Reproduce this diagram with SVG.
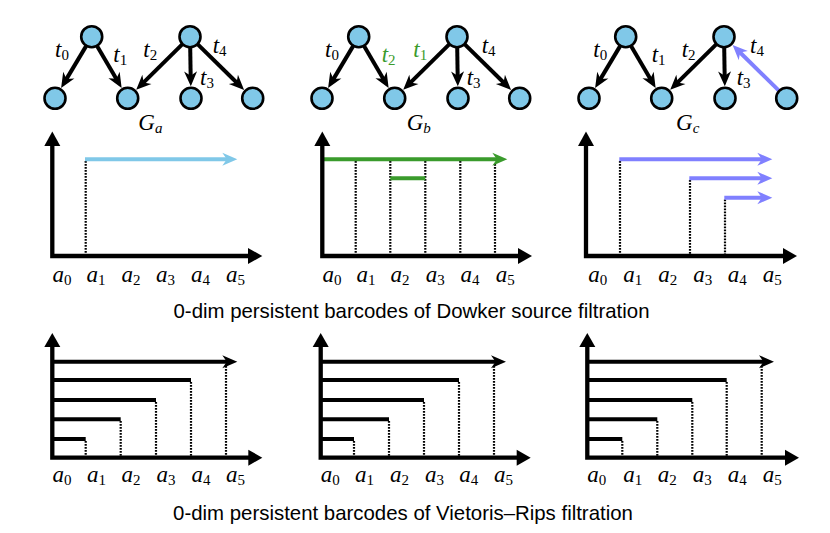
<svg xmlns="http://www.w3.org/2000/svg" width="830" height="533" viewBox="0 0 830 533">
<style>
.node{fill:#80C8E8;stroke:#000;stroke-width:2.6}
.edge{stroke:#000;stroke-width:4;fill:none}
.ax{stroke:#000;stroke-width:4.3;fill:none;stroke-linejoin:miter}
.dot{stroke:#000;stroke-width:2.2;stroke-dasharray:1.7 1.3;fill:none}
.bar{stroke-width:4;fill:none}
.m{font-family:"Liberation Serif","Times New Roman",serif;font-style:italic;font-size:23px;fill:#000}
.sub{font-style:normal;font-size:15px}
.subi{font-size:15px}
.cap{font-family:"Liberation Sans",Arial,sans-serif;font-size:20.4px;fill:#000;text-anchor:middle}
</style>
<defs>
<marker id="ak" markerUnits="userSpaceOnUse" viewBox="0 0 16 14" markerWidth="16" markerHeight="14" refX="7" refY="6.5" orient="auto" overflow="visible"><path d="M0,0 L15,6.5 L0,13 L4.5,6.5 z" fill="#000"/></marker>
<marker id="ap" markerUnits="userSpaceOnUse" viewBox="0 0 16 14" markerWidth="16" markerHeight="14" refX="7" refY="6.5" orient="auto" overflow="visible"><path d="M0,0 L15,6.5 L0,13 L4.5,6.5 z" fill="#8080FF"/></marker>
<marker id="ab" markerUnits="userSpaceOnUse" viewBox="0 0 16 14" markerWidth="16" markerHeight="14" refX="7" refY="6.5" orient="auto" overflow="visible"><path d="M0,0 L15,6.5 L0,13 L4.5,6.5 z" fill="#80C8E8"/></marker>
<marker id="ag" markerUnits="userSpaceOnUse" viewBox="0 0 16 14" markerWidth="16" markerHeight="14" refX="7" refY="6.5" orient="auto" overflow="visible"><path d="M0,0 L15,6.5 L0,13 L4.5,6.5 z" fill="#3A9B2C"/></marker>
</defs>

<!-- Graph G_a -->
<g id="graph-a">
 <g id="ga-edges">
  <line class="edge" x1="86.1" y1="46.1" x2="65.2" y2="81.1" marker-end="url(#ak)"/>
  <line class="edge" x1="97.2" y1="46.2" x2="117.6" y2="81" marker-end="url(#ak)"/>
  <line class="edge" x1="182.2" y1="44.4" x2="141.9" y2="84.2" marker-end="url(#ak)"/>
  <line class="edge" x1="190.2" y1="47.7" x2="190.7" y2="78.3" marker-end="url(#ak)"/>
  <line class="edge" x1="197.8" y1="44.4" x2="238.4" y2="84.3" marker-end="url(#ak)"/>
 </g>
 <g id="ga-n1"><circle class="node" cx="91.7" cy="36.7" r="10.5"/></g>
 <g id="ga-n2"><circle class="node" cx="190" cy="36.7" r="10.5"/></g>
 <g id="ga-n3"><circle class="node" cx="55" cy="98.3" r="10.5"/></g>
 <g id="ga-n4"><circle class="node" cx="127.7" cy="98.3" r="10.5"/></g>
 <g id="ga-n5"><circle class="node" cx="191" cy="98.3" r="10.5"/></g>
 <g id="ga-n6"><circle class="node" cx="252.7" cy="98.3" r="10.5"/></g>
 <g id="ga-labels">
  <text class="m" x="55" y="56.7">t<tspan class="sub" dy="3">0</tspan></text>
  <text class="m" x="113.3" y="61.7">t<tspan class="sub" dy="3">1</tspan></text>
  <text class="m" x="143.3" y="56.7">t<tspan class="sub" dy="3">2</tspan></text>
  <text class="m" x="200" y="85">t<tspan class="sub" dy="3">3</tspan></text>
  <text class="m" x="212.7" y="53.3">t<tspan class="sub" dy="3">4</tspan></text>
  <text class="m" x="138.3" y="130">G<tspan class="subi" dy="3">a</tspan></text>
 </g>
</g>

<!-- Graph G_b -->
<g id="graph-b" transform="translate(267,0)">
 <g id="gb-edges">
  <line class="edge" x1="86.1" y1="46.1" x2="65.2" y2="81.1" marker-end="url(#ak)"/>
  <line class="edge" x1="97.2" y1="46.2" x2="117.6" y2="81" marker-end="url(#ak)"/>
  <line class="edge" x1="182.2" y1="44.4" x2="141.9" y2="84.2" marker-end="url(#ak)"/>
  <line class="edge" x1="190.2" y1="47.7" x2="190.7" y2="78.3" marker-end="url(#ak)"/>
  <line class="edge" x1="197.8" y1="44.4" x2="238.4" y2="84.3" marker-end="url(#ak)"/>
 </g>
 <g id="gb-n1"><circle class="node" cx="91.7" cy="36.7" r="10.5"/></g>
 <g id="gb-n2"><circle class="node" cx="190" cy="36.7" r="10.5"/></g>
 <g id="gb-n3"><circle class="node" cx="55" cy="98.3" r="10.5"/></g>
 <g id="gb-n4"><circle class="node" cx="127.7" cy="98.3" r="10.5"/></g>
 <g id="gb-n5"><circle class="node" cx="191" cy="98.3" r="10.5"/></g>
 <g id="gb-n6"><circle class="node" cx="252.7" cy="98.3" r="10.5"/></g>
 <g id="gb-labels">
  <text class="m" x="58" y="56.7">t<tspan class="sub" dy="3">0</tspan></text>
  <text class="m" x="114.7" y="62" style="fill:#3A9B2C">t<tspan class="sub" dy="3">2</tspan></text>
  <text class="m" x="146.3" y="57" style="fill:#3A9B2C">t<tspan class="sub" dy="3">1</tspan></text>
  <text class="m" x="199.7" y="85">t<tspan class="sub" dy="3">3</tspan></text>
  <text class="m" x="214.7" y="53.3">t<tspan class="sub" dy="3">4</tspan></text>
  <text class="m" x="139.7" y="130">G<tspan class="subi" dy="3">b</tspan></text>
 </g>
</g>

<!-- Graph G_c -->
<g id="graph-c" transform="translate(534,0)">
 <g id="gc-edges">
  <line class="edge" x1="86.1" y1="46.1" x2="65.2" y2="81.1" marker-end="url(#ak)"/>
  <line class="edge" x1="97.2" y1="46.2" x2="117.6" y2="81" marker-end="url(#ak)"/>
  <line class="edge" x1="182.2" y1="44.4" x2="141.9" y2="84.2" marker-end="url(#ak)"/>
  <line class="edge" x1="190.2" y1="47.7" x2="190.7" y2="78.3" marker-end="url(#ak)"/>
  <line class="edge" style="stroke:#8080FF" x1="244.9" y1="90.6" x2="204.3" y2="50.7" marker-end="url(#ap)"/>
 </g>
 <g id="gc-n1"><circle class="node" cx="91.7" cy="36.7" r="10.5"/></g>
 <g id="gc-n2"><circle class="node" cx="190" cy="36.7" r="10.5"/></g>
 <g id="gc-n3"><circle class="node" cx="55" cy="98.3" r="10.5"/></g>
 <g id="gc-n4"><circle class="node" cx="127.7" cy="98.3" r="10.5"/></g>
 <g id="gc-n5"><circle class="node" cx="191" cy="98.3" r="10.5"/></g>
 <g id="gc-n6"><circle class="node" cx="252.7" cy="98.3" r="10.5"/></g>
 <g id="gc-labels">
  <text class="m" x="59.3" y="56.7">t<tspan class="sub" dy="3">0</tspan></text>
  <text class="m" x="117.7" y="62">t<tspan class="sub" dy="3">1</tspan></text>
  <text class="m" x="147.7" y="57">t<tspan class="sub" dy="3">2</tspan></text>
  <text class="m" x="202.7" y="85">t<tspan class="sub" dy="3">3</tspan></text>
  <text class="m" x="216" y="53.3">t<tspan class="sub" dy="3">4</tspan></text>
  <text class="m" x="142" y="130">G<tspan class="subi" dy="3">c</tspan></text>
 </g>
</g>

<!-- Dowker barcode panels -->
<g id="dowker-a">
 <line class="dot" x1="85.7" y1="161" x2="85.7" y2="254"/>
 <line class="bar" stroke="#80C8E8" x1="85" y1="159.3" x2="229.3" y2="159.3" marker-end="url(#ab)"/>
 <path class="ax" d="M52.3,146 V256 H249"/>
 <polygon points="44.3,146 60.3,146 52.3,131.5"/>
 <polygon points="248,248 248,264 262.3,256"/>
 <g class="m">
  <text x="52.5" y="281.7">a<tspan class="sub" dy="3">0</tspan></text>
  <text x="86.5" y="281.7">a<tspan class="sub" dy="3">1</tspan></text>
  <text x="121.5" y="281.7">a<tspan class="sub" dy="3">2</tspan></text>
  <text x="156" y="281.7">a<tspan class="sub" dy="3">3</tspan></text>
  <text x="191" y="281.7">a<tspan class="sub" dy="3">4</tspan></text>
  <text x="226" y="281.7">a<tspan class="sub" dy="3">5</tspan></text>
 </g>
</g>

<g id="dowker-b">
 <line class="dot" x1="355.7" y1="161" x2="355.7" y2="254"/>
 <line class="dot" x1="390.3" y1="161" x2="390.3" y2="254"/>
 <line class="dot" x1="425.3" y1="161" x2="425.3" y2="254"/>
 <line class="dot" x1="460.3" y1="161" x2="460.3" y2="254"/>
 <line class="dot" x1="495" y1="164" x2="495" y2="254"/>
 <line class="bar" stroke="#3A9B2C" x1="322.3" y1="159.3" x2="499.3" y2="159.3" marker-end="url(#ag)"/>
 <line class="bar" stroke="#3A9B2C" x1="390.3" y1="178.3" x2="425.3" y2="178.3"/>
 <path class="ax" d="M322.3,146 V256 H519"/>
 <polygon points="314.3,146 330.3,146 322.3,131.5"/>
 <polygon points="518,248 518,264 532,256"/>
 <g class="m">
  <text x="322.5" y="281.7">a<tspan class="sub" dy="3">0</tspan></text>
  <text x="356.5" y="281.7">a<tspan class="sub" dy="3">1</tspan></text>
  <text x="390.5" y="281.7">a<tspan class="sub" dy="3">2</tspan></text>
  <text x="425.8" y="281.7">a<tspan class="sub" dy="3">3</tspan></text>
  <text x="460.5" y="281.7">a<tspan class="sub" dy="3">4</tspan></text>
  <text x="495.8" y="281.7">a<tspan class="sub" dy="3">5</tspan></text>
 </g>
</g>

<g id="dowker-c">
 <line class="dot" x1="620" y1="161" x2="620" y2="254"/>
 <line class="dot" x1="690" y1="180" x2="690" y2="254"/>
 <line class="dot" x1="725" y1="199.5" x2="725" y2="254"/>
 <line class="bar" stroke="#8080FF" x1="619.3" y1="159.3" x2="764.3" y2="159.3" marker-end="url(#ap)"/>
 <line class="bar" stroke="#8080FF" x1="689.3" y1="178.3" x2="764.3" y2="178.3" marker-end="url(#ap)"/>
 <line class="bar" stroke="#8080FF" x1="724.3" y1="197.7" x2="764.3" y2="197.7" marker-end="url(#ap)"/>
 <path class="ax" d="M586,146 V256 H783"/>
 <polygon points="578,146 594,146 586,131.5"/>
 <polygon points="783,248 783,264 797,256"/>
 <g class="m">
  <text x="588.3" y="281.7">a<tspan class="sub" dy="3">0</tspan></text>
  <text x="623.3" y="281.7">a<tspan class="sub" dy="3">1</tspan></text>
  <text x="658.3" y="281.7">a<tspan class="sub" dy="3">2</tspan></text>
  <text x="693.3" y="281.7">a<tspan class="sub" dy="3">3</tspan></text>
  <text x="727.7" y="281.7">a<tspan class="sub" dy="3">4</tspan></text>
  <text x="762.7" y="281.7">a<tspan class="sub" dy="3">5</tspan></text>
 </g>
</g>

<text class="cap" x="411.5" y="317.5">0-dim persistent barcodes of Dowker source filtration</text>

<!-- Vietoris-Rips barcode panels -->
<g id="vr-a">
 <line class="dot" x1="85.7" y1="441" x2="85.7" y2="456"/>
 <line class="dot" x1="120.7" y1="421" x2="120.7" y2="456"/>
 <line class="dot" x1="156" y1="402" x2="156" y2="456"/>
 <line class="dot" x1="191" y1="382" x2="191" y2="456"/>
 <line class="dot" x1="226" y1="366" x2="226" y2="456"/>
 <line class="bar" stroke="#000" x1="52.3" y1="361.7" x2="229.3" y2="361.7" marker-end="url(#ak)"/>
 <line class="bar" stroke="#000" x1="52.3" y1="380" x2="191" y2="380"/>
 <line class="bar" stroke="#000" x1="52.3" y1="400" x2="156" y2="400"/>
 <line class="bar" stroke="#000" x1="52.3" y1="419.3" x2="120.7" y2="419.3"/>
 <line class="bar" stroke="#000" x1="52.3" y1="439" x2="85.7" y2="439"/>
 <path class="ax" d="M52.3,347 V457.7 H249"/>
 <polygon points="44.3,347 60.3,347 52.3,333"/>
 <polygon points="248.3,449.7 248.3,465.7 262.3,457.7"/>
 <g class="m">
  <text x="52.5" y="481.7">a<tspan class="sub" dy="3">0</tspan></text>
  <text x="87" y="481.7">a<tspan class="sub" dy="3">1</tspan></text>
  <text x="121.5" y="481.7">a<tspan class="sub" dy="3">2</tspan></text>
  <text x="156.5" y="481.7">a<tspan class="sub" dy="3">3</tspan></text>
  <text x="191.5" y="481.7">a<tspan class="sub" dy="3">4</tspan></text>
  <text x="226" y="481.7">a<tspan class="sub" dy="3">5</tspan></text>
 </g>
</g>

<g id="vr-b">
 <line class="dot" x1="354" y1="441" x2="354" y2="456"/>
 <line class="dot" x1="389" y1="421" x2="389" y2="456"/>
 <line class="dot" x1="424" y1="402" x2="424" y2="456"/>
 <line class="dot" x1="459" y1="382" x2="459" y2="456"/>
 <line class="dot" x1="494" y1="366" x2="494" y2="456"/>
 <line class="bar" stroke="#000" x1="320.7" y1="361.7" x2="498" y2="361.7" marker-end="url(#ak)"/>
 <line class="bar" stroke="#000" x1="320.7" y1="380" x2="459" y2="380"/>
 <line class="bar" stroke="#000" x1="320.7" y1="400" x2="424" y2="400"/>
 <line class="bar" stroke="#000" x1="320.7" y1="419.3" x2="389" y2="419.3"/>
 <line class="bar" stroke="#000" x1="320.7" y1="439" x2="354" y2="439"/>
 <path class="ax" d="M320.7,347 V457.7 H517"/>
 <polygon points="312.7,347 328.7,347 320.7,333"/>
 <polygon points="516.7,449.7 516.7,465.7 530.7,457.7"/>
 <g class="m">
  <text x="320.7" y="481.7">a<tspan class="sub" dy="3">0</tspan></text>
  <text x="355" y="481.7">a<tspan class="sub" dy="3">1</tspan></text>
  <text x="390" y="481.7">a<tspan class="sub" dy="3">2</tspan></text>
  <text x="425" y="481.7">a<tspan class="sub" dy="3">3</tspan></text>
  <text x="459.3" y="481.7">a<tspan class="sub" dy="3">4</tspan></text>
  <text x="494" y="481.7">a<tspan class="sub" dy="3">5</tspan></text>
 </g>
</g>

<g id="vr-c">
 <line class="dot" x1="622.3" y1="441" x2="622.3" y2="456"/>
 <line class="dot" x1="657.3" y1="421" x2="657.3" y2="456"/>
 <line class="dot" x1="692.3" y1="402" x2="692.3" y2="456"/>
 <line class="dot" x1="726.7" y1="382" x2="726.7" y2="456"/>
 <line class="dot" x1="761.7" y1="366" x2="761.7" y2="456"/>
 <line class="bar" stroke="#000" x1="587.3" y1="361.7" x2="766" y2="361.7" marker-end="url(#ak)"/>
 <line class="bar" stroke="#000" x1="587.3" y1="380" x2="726.7" y2="380"/>
 <line class="bar" stroke="#000" x1="587.3" y1="400" x2="692.3" y2="400"/>
 <line class="bar" stroke="#000" x1="587.3" y1="419.3" x2="657.3" y2="419.3"/>
 <line class="bar" stroke="#000" x1="587.3" y1="439" x2="622.3" y2="439"/>
 <path class="ax" d="M587.3,347 V457.7 H785"/>
 <polygon points="579.3,347 595.3,347 587.3,333"/>
 <polygon points="785,449.7 785,465.7 799,457.7"/>
 <g class="m">
  <text x="587.3" y="481.7">a<tspan class="sub" dy="3">0</tspan></text>
  <text x="623.3" y="481.7">a<tspan class="sub" dy="3">1</tspan></text>
  <text x="657.7" y="481.7">a<tspan class="sub" dy="3">2</tspan></text>
  <text x="692.7" y="481.7">a<tspan class="sub" dy="3">3</tspan></text>
  <text x="727.7" y="481.7">a<tspan class="sub" dy="3">4</tspan></text>
  <text x="762.7" y="481.7">a<tspan class="sub" dy="3">5</tspan></text>
 </g>
</g>

<text class="cap" x="403" y="520">0-dim persistent barcodes of Vietoris–Rips filtration</text>
</svg>
